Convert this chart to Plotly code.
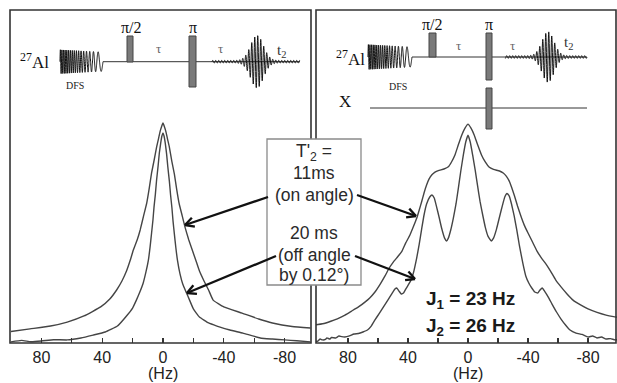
import numpy as np
import plotly.graph_objects as go

# ---------------- data (intensity in a.u., 100 = tallest peak) -------------
# Left panel: 27Al single-peak echo spectra
hz_on_left = [100, 87.5, 74, 63, 52, 41, 35, 30.5, 27, 24, 21.5, 19.5, 17, 15, 12.8, 10.7, 9, 7.5, 5.8, 4.2,
              3, 2, 1, 0, -1, -2, -3, -4.2, -5.8, -7.5, -9, -10.7, -12.7, -14.5, -17, -19.5, -22, -24, -27,
              -30, -33, -40, -52, -63, -72, -85, -97]
int_on_left = [5.2, 6.4, 7.7, 9.5, 12.3, 16.4, 20.0, 24.1, 28.2, 32.7, 37.7, 42.3, 46.8, 51.4, 57.7, 63.6, 70.5,
               77.3, 83.2, 89.1, 92.7, 95.9, 98.2, 100.0, 98.2, 95.9, 92.7, 89.1, 82.7, 76.8, 70.0, 63.2, 57.7,
               52.7, 46.8, 41.8, 36.8, 32.7, 28.2, 24.1, 19.5, 16.4, 13.6, 10.9, 9.1, 7.5, 6.8]

hz_off_left = [100, 93, 87, 80, 72, 63, 54, 46, 38, 30, 24, 20, 17.5, 15.5, 13, 11.2, 9.6, 8.5, 7.5, 6.6, 5.9,
               5, 4.2, 3.2, 2.4, 1.5, 0.7, 0, -0.7, -1.5, -2.4, -3.2, -4.2, -5, -5.9, -6.6, -7.5, -8.5, -9.6,
               -11.2, -13, -15.5, -17.5, -20, -24, -30, -35.5, -44, -52.6, -64, -72, -80, -88, -97]
int_off_left = [0.5, 1.2, 0.6, 0.9, 1.5, 1.4, 2.3, 3.6, 5.0, 7.7, 12.3, 15.9, 19.5, 22.7, 27.3, 32.3, 37.7, 43.6,
                50.0, 55.9, 61.8, 67.7, 74.1, 80.5, 86.4, 90.9, 94.1, 95.5, 94.1, 90.9, 85.9, 80.0, 73.6, 67.3,
                61.4, 55.5, 49.5, 43.2, 37.3, 31.4, 26.8, 22.7, 19.5, 15.5, 11.8, 9.1, 7.7, 5.9, 4.5, 2.3, 1.8,
                1.4, 1.0, 0.5]

# Right panel: J-resolved multiplet spectra
hz_on_right = [102, 100, 95.3, 91, 86.4, 82, 77.6, 73, 68.7, 65.5, 62, 58.5, 55.3, 52.5, 49.8, 47, 44.2, 41.5,
               38.7, 36.5, 34.2, 32.5, 30.9, 29.3, 27.6, 26, 24.2, 22, 19.8, 16, 13.1, 11, 8.7, 6.5, 4.2, 2, 0,
               -2, -4.2, -6.5, -9, -11.5, -14, -17, -21, -23.5, -25.5, -27.5, -29, -31, -33, -35, -37.5, -40,
               -43, -46, -49, -52, -55, -58.5, -62, -66, -70, -75, -80, -86, -92, -97, -101]
int_on_right = [8.2, 8.4, 9.0, 10.0, 11.2, 12.7, 14.5, 16.4, 18.6, 20.5, 23.2, 26.8, 30.5, 34.1, 36.8, 39.1, 41.5,
                45.5, 49.1, 52.7, 56.7, 60.5, 64.2, 68.2, 71.8, 74.5, 76.4, 77.7, 78.4, 79.1, 80.1, 82.3, 85.5,
                90.0, 94.5, 97.7, 99.5,
                97.7, 94.5, 90.0, 85.5, 82.3, 80.0, 78.9, 78.2, 77.3, 75.9, 73.6, 70.9, 66.8, 62.3, 58.2, 53.6,
                50.0, 45.9, 41.8, 38.6, 35.9, 32.7, 28.6, 25.5, 22.3, 19.5, 17.3, 15.5, 13.9, 12.7, 12.0, 11.6]

hz_off_right = [102, 100, 98.5, 97, 95, 94, 92, 91, 88, 86, 85, 82, 79, 76, 73, 70, 67, 64.5, 62, 59, 56, 53,
                50.5, 48.7, 47.5, 46, 44.5, 43, 41.5, 39.8, 38, 36.4, 34.2, 32.5, 30.9, 29.3, 27.6, 25.5, 24,
                22.5, 20.9, 19.3, 17.6, 15.6, 14.3, 13.1, 11.5, 9.8, 8, 6.4, 4.8, 3.1, 1.5, 0,
                -1.5, -3.1, -4.8, -6.4, -8, -9.8, -11.5, -13.3, -15.5, -17, -19, -21, -23, -24.5, -26, -27.5,
                -29, -30.8, -32.5, -34.3, -36.5, -38.5, -40.5, -42.5, -44.5, -46.5, -48, -49.5, -51, -53.5,
                -56, -59, -62, -65, -68, -72, -76, -80, -83, -86, -89, -92, -95, -98, -101]
int_off_right = [0.7, 0.9, 1.8, 1.4, 1.6, 2.3, 1.8, 2.5, 2.3, 3.2, 3.0, 2.7, 3.2, 4.1, 4.3, 5.0, 5.9, 7.7, 10.5,
                 13.6, 16.8, 20.0, 22.7, 24.5, 25.0, 23.6, 22.3, 22.7, 24.5, 26.4, 28.6, 31.8, 38.6, 45.0, 51.8,
                 58.2, 63.2, 66.4, 67.3, 65.9, 61.8, 57.3, 52.3, 47.7, 46.4, 47.7, 51.4, 56.7, 63.2, 70.5, 78.2,
                 85.5, 91.4, 94.5,
                 91.4, 85.5, 78.6, 71.4, 64.5, 58.2, 52.7, 48.6, 46.4, 47.7, 51.8, 57.3, 62.7, 66.4, 68.0, 66.8,
                 63.2, 57.7, 51.4, 44.1, 36.4, 30.5, 27.3, 25.0, 23.2, 22.7, 24.1, 25.0, 23.6, 20.9, 17.7, 14.1,
                 10.9, 8.2, 5.9, 4.5, 3.9, 2.7, 3.2, 2.3, 2.7, 1.8, 2.0, 1.4, 1.6]

major_ticks = [80, 40, 0, -40, -80]
major_text = ["80", "40", "0", "-40", "-80"]
minor_ticks = [60, 20, -20, -60]

box_lines = ["T'<sub>2</sub> =", "11ms", "(on angle)", "20 ms", "(off angle", "by 0.12°)"]
j_labels = ["<b>J<sub>1</sub> = 23 Hz</b>", "<b>J<sub>2</sub> = 26 Hz</b>"]

# ---------------- layout helpers (pixel -> paper) -------------
W, H = 617, 383
def px(x):
    return x / W
def py(y):
    return 1 - y / H

SANS = "Liberation Sans, Arial, sans-serif"
SERIF = "Liberation Serif, Times New Roman, serif"
CURVE = "#454545"

fig = go.Figure()
for xs, ys, xa, ya in [(hz_on_left, int_on_left, "x", "y"), (hz_off_left, int_off_left, "x", "y"),
                       (hz_on_right, int_on_right, "x2", "y2"), (hz_off_right, int_off_right, "x2", "y2")]:
    fig.add_trace(go.Scatter(x=xs, y=ys, mode="lines", xaxis=xa, yaxis=ya, hoverinfo="skip",
                             line=dict(color=CURVE, width=1.4, shape="spline", smoothing=0.35)))

xcommon = dict(tickmode="array", tickvals=major_ticks, ticktext=major_text, ticks="inside", ticklen=5,
               tickwidth=1.2, tickcolor="#333", showgrid=False, zeroline=False, showline=False,
               ticklabelstandoff=3,
               minor=dict(tickvals=minor_ticks, ticks="inside", ticklen=5, tickwidth=1.2, tickcolor="#333",
                          showgrid=False),
               tickfont=dict(family=SANS, size=16, color="#222"), fixedrange=True)
ycommon = dict(range=[0, 151.4], visible=False, fixedrange=True, domain=[py(343), py(10)])

fig.update_layout(
    width=W, height=H, margin=dict(l=0, r=0, t=0, b=0),
    paper_bgcolor="white", plot_bgcolor="rgba(0,0,0,0)", showlegend=False,
    xaxis=dict(domain=[px(10), px(311)], range=[100.66, -97.4], anchor="y", **xcommon),
    yaxis=dict(anchor="x", **ycommon),
    xaxis2=dict(domain=[px(316), px(617)], range=[101.3, -99.3], anchor="y2", **xcommon),
    yaxis2=dict(anchor="x2", **ycommon),
)

shapes = []
def rect(x0, y0, x1, y1, line="#333", width=1.5, fill=None, layer="above"):
    shapes.append(dict(type="rect", xref="paper", yref="paper", x0=px(x0), x1=px(x1), y0=py(y1), y1=py(y0),
                       line=dict(color=line, width=width), fillcolor=fill, layer=layer))

def seg(x0, y0, x1, y1, color="#333", width=1):
    shapes.append(dict(type="line", xref="paper", yref="paper", x0=px(x0), x1=px(x1), y0=py(y0), y1=py(y1),
                       line=dict(color=color, width=width), layer="above"))

def path(xs, ys, color="black", width=1):
    d = "M" + " L".join(f"{px(a):.5f},{py(b):.5f}" for a, b in zip(xs, ys))
    shapes.append(dict(type="path", xref="paper", yref="paper", path=d,
                       line=dict(color=color, width=width), layer="above"))

def dfs_glyph(x0, x1, yb, amp):
    t = np.linspace(0, 1, 600)
    ph = 2 * np.pi * (28.7 * t - 23.4 * t ** 2 / 2)
    a = amp * (1 - 0.2 * t)
    path(x0 + (x1 - x0) * t, yb - a * np.sin(ph), color="#111", width=1)

def echo_glyph(x0, x1, xc, yb, amp, sigma, period):
    xs = np.linspace(x0, x1, 700)
    env = amp * np.exp(-((xs - xc) / sigma) ** 2) + 1.3
    path(xs, yb - env * np.sin(2 * np.pi * (xs - xc) / period), color="#111", width=1)

def arrow(tail, tip, head=10, color="#111", width=2.3):
    seg(tail[0], tail[1], tip[0], tip[1], color, width)
    dx, dy = tip[0] - tail[0], tip[1] - tail[1]
    L = (dx * dx + dy * dy) ** 0.5
    ux, uy = dx / L, dy / L
    for s in (1, -1):
        ang = s * np.radians(28)
        rx = ux * np.cos(ang) - uy * np.sin(ang)
        ry = ux * np.sin(ang) + uy * np.cos(ang)
        seg(tip[0], tip[1], tip[0] - head * rx, tip[1] - head * ry, color, width)

# panel frames
rect(10, 10, 311, 343, line="#333", width=1.6)
rect(316, 10, 616, 343, line="#333", width=1.6)

PULSE = "#7a7a7a"
# left pulse sequence
dfs_glyph(60, 103, 61.7, 12)
seg(103, 61.7, 300, 61.7)
echo_glyph(212, 300, 257, 61.7, 25, 9, 3.0)
rect(127, 36, 133, 62, line="#444", width=1, fill=PULSE)
rect(189, 36, 196, 87, line="#444", width=1, fill=PULSE)
# right pulse sequence
dfs_glyph(368, 412, 57, 12.5)
seg(412, 57, 587, 57)
echo_glyph(505, 587, 548, 57, 24, 8.5, 3.0)
rect(429, 33, 436, 57, line="#444", width=1, fill=PULSE)
rect(486, 33, 492, 80, line="#444", width=1, fill=PULSE)
seg(370, 108, 587, 108)
rect(486, 88, 492, 129, line="#444", width=1, fill=PULSE)

# central text box
rect(267, 139, 361, 285, line="#8a8a8a", width=1.3, fill="white")

# arrows
arrow((268, 197), (185, 225))
arrow((276, 256), (187, 293))
arrow((357, 195), (416, 216))
arrow((355, 256), (415, 279))
fig.update_layout(shapes=shapes)

ann = []
def text(x, y, s, size, family=SANS, color="#222", xanchor="center"):
    ann.append(dict(x=px(x), y=py(y), xref="paper", yref="paper", text=s, showarrow=False,
                    xanchor=xanchor, yanchor="middle", font=dict(family=family, size=size, color=color)))

# pulse-sequence labels
text(51, 61, "<sup>27</sup>Al", 17, SERIF, "#111", xanchor="right")
text(75, 85, "DFS", 10, SERIF, "#222")
text(131, 27, "π/2", 16, SERIF, "#111")
text(193, 27, "π", 16, SERIF, "#111")
text(159, 49, "τ", 13, SERIF, "#666")
text(220, 49, "τ", 13, SERIF, "#666")
text(281, 51, "t<sub>2</sub>", 15, SERIF, "#333")

text(367, 58, "<sup>27</sup>Al", 17, SERIF, "#111", xanchor="right")
text(398, 86, "DFS", 10, SERIF, "#222")
text(433, 25, "π/2", 16, SERIF, "#111")
text(489, 25, "π", 16, SERIF, "#111")
text(458, 45, "τ", 13, SERIF, "#666")
text(512, 45, "τ", 13, SERIF, "#666")
text(568, 43, "t<sub>2</sub>", 15, SERIF, "#333")
text(345, 101, "X", 17, SERIF, "#111")

# box text
for s, yy in zip(box_lines, [152, 173, 195, 233, 255, 275]):
    text(314, yy, s, 17.5, SANS, "#2a2a2a")

# J labels
text(470, 300, j_labels[0], 19, SANS, "#1a1a1a")
text(470, 327, j_labels[1], 19, SANS, "#1a1a1a")

# axis units
text(163, 373, "(Hz)", 16, SANS, "#222")
text(468, 373, "(Hz)", 16, SANS, "#222")

fig.update_layout(annotations=ann)
fig.write_html("out.html", config={"displayModeBar": False, "staticPlot": True},
               post_script="document.body.style.margin='0';document.body.style.overflow='hidden';")
